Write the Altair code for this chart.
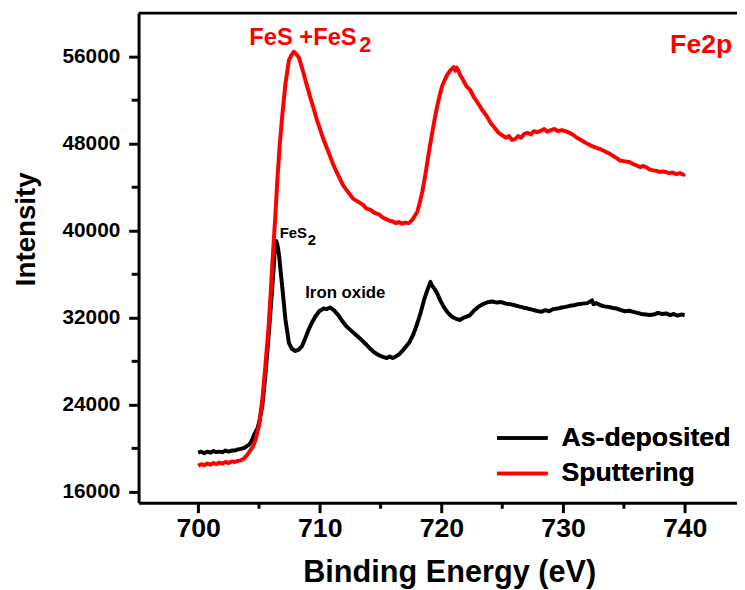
import altair as alt
import pandas as pd

# ---------------- data ----------------
series_names = ["As-deposited", "Sputtering"]
series_colors = ["#000000", "#ff0000"]

energy_as = [700.0, 700.25, 700.5, 700.75, 701.0, 701.25, 701.5, 701.75, 702.0, 702.25, 702.5, 702.75,
             703.0, 703.25, 703.5, 703.8, 704.0, 704.2, 704.4, 704.6, 704.88, 705.08, 705.28, 705.55,
             705.83, 706.1, 706.28, 706.42, 706.5, 706.64, 706.91, 707.18, 707.46, 707.7, 707.99, 708.25,
             708.54, 708.8, 709.08, 709.35, 709.62, 709.95, 710.3, 710.55, 710.84, 711.15, 711.52, 711.85,
             712.2, 712.6, 713.0, 713.4, 713.82, 714.1, 714.4, 714.65, 714.88, 715.2, 715.5, 715.75,
             715.99, 716.25, 716.53, 716.9, 717.34, 717.7, 718.02, 718.3, 718.56, 718.8, 719.0, 719.1,
             719.2, 719.4, 719.65, 719.9, 720.19, 720.5, 720.87, 721.2, 721.54, 721.8, 722.05, 722.36,
             722.7, 723.03, 723.4, 723.85, 724.2, 724.55, 724.93, 725.3, 725.65, 726.02, 726.35, 726.7,
             727.1, 727.45, 727.8, 728.19, 728.55, 728.85, 729.2, 729.54, 729.9, 730.2, 730.55, 730.89,
             731.25, 731.6, 732.0, 732.38, 732.5, 732.75, 733.07, 733.4, 733.75, 734.1, 734.42, 734.75,
             735.1, 735.45, 735.77, 736.1, 736.45, 736.8, 737.13, 737.45, 737.8, 738.15, 738.48, 738.8,
             739.1, 739.4, 739.7, 740.0]
intensity_as = [19600, 19700, 19550, 19700, 19600, 19750, 19650, 19700, 19650, 19800, 19700, 19800,
                19800, 19900, 19950, 20050, 20200, 20350, 20700, 21250, 21850, 22700, 23950, 27000,
                30900, 34850, 37850, 39050, 38800, 37850, 34850, 31800, 29700, 29150, 28950, 29050,
                29400, 30100, 30900, 31550, 32100, 32600, 32850, 32800, 32950, 32700, 32250, 31700,
                31200, 30800, 30400, 30000, 29550, 29200, 28900, 28700, 28550, 28400, 28300, 28450,
                28300, 28450, 28650, 29100, 29700, 30500, 31500, 32500, 33600, 34400, 35000, 35300,
                35000, 34700, 34250, 33600, 33000, 32500, 32100, 31900, 31800, 32000, 32100, 32250,
                32700, 33000, 33250, 33450, 33500, 33400, 33450, 33300, 33250, 33150, 33050, 32950,
                32850, 32750, 32650, 32550, 32700, 32600, 32800, 32850, 32950, 33000, 33100, 33150,
                33250, 33300, 33350, 33600, 33250, 33350, 33150, 33050, 33000, 32900, 32850, 32700,
                32600, 32650, 32550, 32450, 32350, 32300, 32250, 32300, 32450, 32350, 32400, 32250,
                32350, 32200, 32300, 32250]

energy_sp = [700.0, 700.25, 700.5, 700.75, 701.0, 701.25, 701.5, 701.75, 702.0, 702.25, 702.5, 702.75,
             703.0, 703.25, 703.5, 703.75, 704.0, 704.25, 704.5, 704.75, 705.0, 705.28, 705.55, 705.77,
             705.96, 706.18, 706.32, 706.5, 706.7, 706.91, 707.18, 707.46, 707.65, 707.86, 708.05, 708.27,
             708.45, 708.67, 708.9, 709.19, 709.45, 709.76, 710.0, 710.3, 710.55, 710.81, 711.1, 711.38,
             711.65, 711.93, 712.3, 712.74, 713.1, 713.55, 713.82, 714.2, 714.5, 714.88, 715.2, 715.5,
             715.8, 716.0, 716.26, 716.5, 716.75, 717.0, 717.32, 717.6, 718.02, 718.2, 718.43, 718.64,
             718.84, 719.04, 719.24, 719.45, 719.65, 719.85, 720.06, 720.25, 720.46, 720.7, 721.0, 721.15,
             721.25, 721.38, 721.55, 721.79, 722.05, 722.36, 722.65, 723.0, 723.35, 723.72, 724.05, 724.39,
             724.7, 725.04, 725.3, 725.55, 725.8, 726.02, 726.3, 726.55, 726.8, 727.07, 727.35, 727.6,
             727.9, 728.19, 728.45, 728.7, 729.0, 729.3, 729.6, 729.9, 730.33, 730.6, 730.85, 731.14,
             731.45, 731.75, 732.0, 732.25, 732.55, 732.8, 733.07, 733.35, 733.6, 733.88, 734.15, 734.45,
             734.69, 735.0, 735.25, 735.5, 735.8, 736.05, 736.32, 736.6, 736.83, 737.1, 737.4, 737.7,
             737.94, 738.2, 738.46, 738.7, 739.0, 739.3, 739.6, 739.9, 740.0]
intensity_sp = [18400, 18550, 18450, 18600, 18500, 18650, 18550, 18700, 18600, 18750, 18650, 18800,
                18750, 18850, 18900, 19050, 19350, 19750, 20150, 20900, 22100, 24550, 27900, 30900,
                34250, 38500, 40900, 44500, 47800, 50550, 53550, 55650, 56100, 56450, 56250, 55950,
                55300, 54450, 53500, 52350, 51400, 50200, 49400, 48400, 47700, 46950, 46100, 45400,
                44800, 44150, 43600, 42950, 42700, 42400, 42050, 41900, 41650, 41500, 41200, 41050,
                40900, 40850, 40700, 40800, 40650, 40750, 40700, 41000, 41750, 42500, 43600, 44900,
                46300, 47700, 49000, 50300, 51450, 52400, 53300, 53800, 54300, 54700, 55050, 54700,
                55000, 54750, 54300, 53850, 53300, 52950, 52300, 51750, 51100, 50550, 49900, 49450,
                49000, 48750, 48550, 48700, 48350, 48400, 48700, 48550, 48900, 49000, 48850, 49150,
                49050, 49200, 49350, 49100, 49250, 49350, 49150, 49250, 49100, 48950, 48800, 48550,
                48350, 48150, 48000, 47850, 47700, 47600, 47500, 47350, 47200, 47050, 46850, 46650,
                46450, 46400, 46350, 46300, 46100, 46000, 45850, 45950, 45850, 45650, 45550, 45500,
                45400, 45450, 45400, 45300, 45350, 45200, 45300, 45150, 45250]

x_ticks = [700, 710, 720, 730, 740]
x_minor = [705, 715, 725, 735]
y_ticks = [16000, 24000, 32000, 40000, 48000, 56000]
y_minor = [20000, 28000, 36000, 44000, 52000]

ann_text = ["FeS +FeS", "2", "Fe2p", "FeS", "2", "Iron oxide"]
ann_x = [704.2, 713.25, 738.8, 706.7, 709.0, 708.8]
ann_y = [57087, 56450, 56335, 39357, 38650, 33830]
ann_color = ["#ff0000", "#ff0000", "#ff0000", "#000000", "#000000", "#000000"]
ann_size = [24, 22, 27, 15, 15, 17]

# ---------------- build ----------------
FONT = "Liberation Sans"
W, H = 605, 495
XDOM = [695.1, 744.3]
YDOM = [15000, 60000]

df = pd.concat([
    pd.DataFrame({"energy": energy_as, "intensity": intensity_as, "series": series_names[0]}),
    pd.DataFrame({"energy": energy_sp, "intensity": intensity_sp, "series": series_names[1]}),
], ignore_index=True)
df["idx"] = range(len(df))

xscale = alt.Scale(domain=XDOM, nice=False, zero=False)
yscale = alt.Scale(domain=YDOM, nice=False, zero=False)

x_axis = alt.Axis(values=x_ticks, grid=False, domainWidth=3, domainColor="black", tickWidth=3,
                  tickColor="black", tickSize=10, labelFont=FONT, labelFontWeight="bold",
                  labelFontSize=27, labelColor="black", labelPadding=3, format="d",
                  titleFont=FONT, titleFontWeight="bold",
                  titleFontSize=31, titleColor="black", titleX=314, titleY=71,
                  titleBaseline="middle", titleAnchor="start", titleAlign="center")
y_axis = alt.Axis(values=y_ticks, grid=False, domainWidth=3, domainColor="black", tickWidth=3,
                  tickColor="black", tickSize=10, labelFont=FONT, labelFontWeight="bold",
                  labelFontSize=21, labelColor="black", labelPadding=9, format="d",
                  titleFont=FONT, titleFontWeight="bold", titleFontSize=28,
                  titleColor="black", titleX=-113, titleY=218, titleBaseline="middle",
                  titleAlign="center", titleAnchor="start", titleAngle=-90)

X_TITLE = "Binding Energy (eV)"
Y_TITLE = "Intensity"

color_enc = alt.Color("series:N",
                      scale=alt.Scale(domain=series_names, range=series_colors),
                      legend=alt.Legend(title=None, orient="none", legendX=374.5, legendY=416,
                                        symbolType="M-4,0H4", symbolSize=163, symbolStrokeWidth=3.5,
                                        labelFont=FONT, labelFontWeight="bold", labelFontSize=27,
                                        labelColor="black", labelOffset=26, rowPadding=8,
                                        labelLimit=400, padding=0))


def line_layer(name):
    return alt.Chart(df).transform_filter(alt.datum.series == name).mark_line(
        strokeWidth=4, strokeJoin="round").encode(
        x=alt.X("energy:Q", scale=xscale, axis=x_axis, title=X_TITLE),
        y=alt.Y("intensity:Q", scale=yscale, axis=y_axis, title=Y_TITLE),
        color=color_enc,
        order=alt.Order("idx:Q"),
    )


line_as = line_layer(series_names[0])
line_sp = line_layer(series_names[1])

ymin_df = pd.DataFrame({"v": y_minor})
y_minor_ticks = alt.Chart(ymin_df).mark_rule(strokeWidth=3, color="black").encode(
    y=alt.Y("v:Q", scale=yscale, axis=y_axis, title=Y_TITLE),
    x=alt.value(-7), x2=alt.value(0),
)
xmin_df = pd.DataFrame({"v": x_minor})
x_minor_ticks = alt.Chart(xmin_df).mark_rule(strokeWidth=3, color="black").encode(
    x=alt.X("v:Q", scale=xscale, axis=x_axis, title=X_TITLE),
    y=alt.value(H), y2=alt.value(H + 6),
)

top_line = alt.Chart(pd.DataFrame({"a": [0]})).mark_rule(strokeWidth=3, color="black").encode(
    x=alt.value(0), x2=alt.value(W), y=alt.value(0),
)

ann_df = pd.DataFrame({"t": ann_text, "x": ann_x, "y": ann_y, "c": ann_color, "s": ann_size})
ann = alt.Chart(ann_df).mark_text(font=FONT, fontWeight="bold", align="left",
                                  baseline="alphabetic").encode(
    x=alt.X("x:Q", scale=xscale, axis=x_axis, title=X_TITLE),
    y=alt.Y("y:Q", scale=yscale, axis=y_axis, title=Y_TITLE),
    text="t:N",
    color=alt.Color("c:N", scale=None, legend=None),
    size=alt.Size("s:Q", scale=None, legend=None),
)

chart = alt.layer(line_as, line_sp, y_minor_ticks, x_minor_ticks, top_line, ann).resolve_scale(
    color="independent"
).properties(
    width=W, height=H,
    autosize=alt.AutoSizeParams(type="none"),
    padding={"left": 132, "top": 2, "right": 0, "bottom": 85},
    background="white",
).configure_view(stroke=None)

chart.save("out.html", embed_options={"renderer": "svg", "actions": False})
